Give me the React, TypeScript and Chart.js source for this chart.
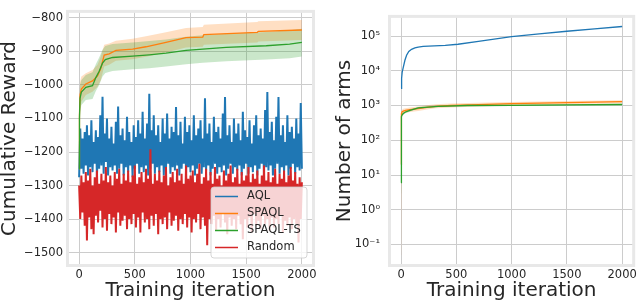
import React, { useEffect, useRef } from "react";
import { Chart, registerables } from "chart.js";
Chart.register(...registerables);

const FONT = "'DejaVu Sans', sans-serif";
const TXT = "#262626";
const GRID = "#cccccc";
const BLUE = "#1f77b4";
const ORANGE = "#ff7f0e";
const GREEN = "#2ca02c";
const RED = "#d62728";

// ---------- Left panel: cumulative reward ----------
const X_TICKS = [0, 500, 1000, 1500, 2000];
const REWARD_TICKS = [-1500, -1400, -1300, -1200, -1100, -1000, -900, -800];

// AQL and Random sampled every 10 iterations (0..2000)
const AQL_REWARD = [
  -1275, -1130, -1250, -1160, -1265, -1140, -1240, -1120, -1270, -1150,
  -1245, -1105, -1260, -1170, -1235, -1135, -1275, -1155, -1250, -1090,
  -1240, -1035, -1265, -1145, -1230, -1100, -1270, -1160, -1245, -1125,
  -1255, -1175, -1240, -1110, -1265, -1064, -1250, -1150, -1235, -1130,
  -1270, -1165, -1245, -1095, -1260, -1140, -1240, -1170, -1275, -1120,
  -1250, -1155, -1235, -1105, -1265, -1145, -1245, -1080, -1260, -1160,
  -1240, -1115, -1270, -1026, -1250, -1135, -1235, -1090, -1265, -1150,
  -1245, -1120, -1260, -1170, -1240, -1100, -1270, -1145, -1250, -1085,
  -1235, -1160, -1265, -1125, -1245, -1140, -1255, -1066, -1240, -1150,
  -1270, -1110, -1250, -1175, -1235, -1095, -1265, -1140, -1245, -1120,
  -1260, -1165, -1240, -1090, -1270, -1150, -1250, -1130, -1235, -1105,
  -1265, -1160, -1245, -1040, -1255, -1145, -1240, -1115, -1270, -1170,
  -1250, -1095, -1235, -1140, -1265, -1125, -1245, -1160, -1260, -1085,
  -1240, -1036, -1270, -1150, -1250, -1120, -1235, -1170, -1265, -1100,
  -1245, -1145, -1255, -1115, -1240, -1165, -1270, -1080, -1250, -1135,
  -1235, -1155, -1265, -1105, -1245, -1175, -1260, -1120, -1240, -1090,
  -1270, -1150, -1250, -1130, -1235, -1160, -1265, -1075, -1245, -1021,
  -1255, -1140, -1240, -1110, -1270, -1165, -1250, -1095, -1235, -1036,
  -1265, -1150, -1245, -1120, -1260, -1170, -1240, -1090, -1270, -1140,
  -1250, -1125, -1235, -1160, -1265, -1100, -1245, -1145, -1255, -1054,
  -1250,
];

const RANDOM_REWARD = [
  -1300, -1400, -1270, -1380, -1290, -1420, -1260, -1464, -1285, -1395,
  -1250, -1430, -1300, -1445, -1275, -1390, -1255, -1410, -1295, -1375,
  -1265, -1425, -1285, -1400, -1245, -1435, -1290, -1385, -1270, -1415,
  -1300, -1395, -1260, -1440, -1280, -1380, -1250, -1420, -1295, -1405,
  -1265, -1390, -1285, -1430, -1255, -1400, -1290, -1415, -1270, -1385,
  -1240, -1425, -1295, -1395, -1275, -1440, -1260, -1380, -1290, -1410,
  -1250, -1400, -1280, -1430, -1192, -1390, -1295, -1420, -1265, -1385,
  -1285, -1445, -1255, -1400, -1290, -1415, -1270, -1395, -1245, -1430,
  -1300, -1380, -1275, -1420, -1260, -1405, -1290, -1390, -1250, -1435,
  -1285, -1400, -1265, -1415, -1295, -1385, -1240, -1425, -1280, -1395,
  -1270, -1440, -1255, -1400, -1290, -1410, -1265, -1385, -1235, -1430,
  -1295, -1395, -1275, -1420, -1250, -1478, -1285, -1400, -1260, -1415,
  -1295, -1390, -1245, -1435, -1280, -1400, -1270, -1425, -1300, -1385,
  -1255, -1410, -1285, -1445, -1265, -1395, -1240, -1420, -1290, -1400,
  -1275, -1430, -1250, -1390, -1295, -1415, -1260, -1460, -1285, -1400,
  -1270, -1425, -1245, -1395, -1290, -1440, -1265, -1385, -1280, -1420,
  -1255, -1405, -1295, -1430, -1270, -1390, -1240, -1415, -1285, -1400,
  -1260, -1435, -1290, -1395, -1275, -1425, -1250, -1400, -1295, -1415,
  -1265, -1390, -1280, -1440, -1255, -1405, -1290, -1420, -1270, -1395,
  -1245, -1430, -1285, -1400, -1260, -1415, -1295, -1470, -1275, -1400,
  -1290,
];

const SPAQL_ITERS = [0, 3, 8, 20, 60, 120, 165, 195, 225, 270, 330, 480, 600, 780, 960, 1110, 1120, 1600, 1610, 2000];
const SPAQL_REWARD = [-1250, -1090, -1030, -1012, -997, -988, -973, -950, -911, -907, -897, -893, -886, -873, -859, -857, -850, -843, -840, -836];
const SPAQL_UPPER = [-1200, -1050, -990, -975, -965, -955, -940, -915, -880, -876, -868, -862, -855, -843, -830, -827, -820, -812, -810, -806];
const SPAQL_LOWER = [-1300, -1130, -1070, -1050, -1030, -1020, -1005, -985, -945, -940, -928, -923, -916, -903, -888, -886, -880, -873, -870, -866];

const TS_ITERS = [0, 3, 8, 20, 60, 120, 150, 180, 210, 235, 300, 480, 630, 780, 960, 1110, 1320, 1680, 1890, 2000];
const TS_REWARD = [-1250, -1100, -1040, -1021, -1007, -1002, -978, -959, -935, -924, -918, -914, -910, -905, -897, -893, -888, -883, -878, -873];
const TS_UPPER = [-1200, -1060, -1000, -985, -970, -962, -938, -918, -895, -884, -878, -873, -869, -864, -856, -852, -847, -842, -837, -832];
const TS_LOWER = [-1300, -1140, -1080, -1060, -1045, -1042, -1018, -1000, -975, -964, -958, -953, -950, -945, -938, -934, -929, -924, -920, -915];

// ---------- Right panel: number of arms ----------
const ARMS_TICKS = [0.1, 1, 10, 100, 1000, 10000, 100000];
const ARMS_TICK_LABELS = ["10\u207B\u00B9", "10\u2070", "10\u00B9", "10\u00B2", "10\u00B3", "10\u2074", "10\u2075"];

const AQL_ARMS_ITERS = [0, 5, 10, 20, 35, 50, 70, 95, 125, 155, 200, 300, 400, 515, 700, 1000, 1250, 1500, 1750, 2000];
const AQL_ARMS = [3100, 6000, 9000, 12500, 20000, 28000, 36000, 41500, 45500, 48000, 50000, 52000, 53500, 58000, 70000, 96000, 115000, 137000, 160000, 188000];

const SPAQL_ARMS_ITERS = [0, 1, 3, 6, 10, 20, 40, 80, 155, 250, 315, 450, 700, 1000, 1500, 2000];
const SPAQL_ARMS = [20, 150, 450, 580, 660, 690, 720, 760, 815, 900, 950, 1000, 1060, 1130, 1210, 1290];
const SPAQL_ARMS_UPPER = [40, 250, 600, 700, 760, 800, 830, 880, 940, 1040, 1090, 1140, 1200, 1270, 1350, 1420];
const SPAQL_ARMS_LOWER = [0.05, 80, 330, 470, 560, 590, 620, 650, 700, 780, 830, 880, 930, 1000, 1080, 1170];

const TS_ARMS_ITERS = [0, 1, 3, 6, 10, 20, 40, 80, 155, 335, 600, 1000, 1500, 2000];
const TS_ARMS = [6, 100, 350, 480, 540, 590, 650, 720, 850, 950, 1000, 1010, 1040, 1070];
const TS_ARMS_UPPER = [12, 150, 420, 540, 600, 640, 700, 770, 900, 1000, 1050, 1060, 1090, 1120];
const TS_ARMS_LOWER = [3, 60, 280, 420, 480, 540, 600, 670, 800, 900, 950, 960, 990, 1020];

const LEGEND_LABELS = ["AQL", "SPAQL", "SPAQL-TS", "Random"];
const LEGEND_COLORS = [BLUE, ORANGE, GREEN, RED];

const pts = (xs: number[], ys: number[]) => ys.map((y, i) => ({ x: xs[i], y }));
const NOISE_ITERS = AQL_REWARD.map((_, i) => i * 10);

function lineDs(label: string, data: any[], color: string, order: number, width = 1.2) {
  return { label, data, borderColor: color, borderWidth: width, pointRadius: 0, fill: false, order, tension: 0 };
}
function bandDs(upper: any[], lower: any[], fillColor: string, order: number) {
  return [
    { label: "_u", data: upper, borderWidth: 0, borderColor: "transparent", pointRadius: 0, fill: "+1", backgroundColor: fillColor, order },
    { label: "_l", data: lower, borderWidth: 0, borderColor: "transparent", pointRadius: 0, fill: false, order },
  ];
}

const framePlugin = {
  id: "frame",
  afterDatasetsDraw(chart: any) {
    const { ctx, chartArea: a } = chart;
    ctx.save();
    ctx.strokeStyle = "#e8e8e8";
    ctx.lineWidth = 3;
    ctx.strokeRect(a.left - 0.5, a.top - 0.5, a.right - a.left + 1, a.bottom - a.top + 1);
    ctx.restore();
  },
};

const legendPlugin = {
  id: "boxLegend",
  afterDraw(chart: any) {
    const { ctx, chartArea: a } = chart;
    const w = 96, h = 71;
    const x = a.right - 6 - w;
    const y = a.bottom - 7 - h;
    ctx.save();
    ctx.beginPath();
    const r = 3;
    ctx.moveTo(x + r, y);
    ctx.lineTo(x + w - r, y);
    ctx.quadraticCurveTo(x + w, y, x + w, y + r);
    ctx.lineTo(x + w, y + h - r);
    ctx.quadraticCurveTo(x + w, y + h, x + w - r, y + h);
    ctx.lineTo(x + r, y + h);
    ctx.quadraticCurveTo(x, y + h, x, y + h - r);
    ctx.lineTo(x, y + r);
    ctx.quadraticCurveTo(x, y, x + r, y);
    ctx.closePath();
    ctx.fillStyle = "rgba(255,255,255,0.8)";
    ctx.fill();
    ctx.strokeStyle = "rgba(204,204,204,0.8)";
    ctx.lineWidth = 1;
    ctx.stroke();
    ctx.font = `11.5px ${FONT}`;
    ctx.textBaseline = "middle";
    ctx.textAlign = "left";
    LEGEND_LABELS.forEach((lab, i) => {
      const cy = y + 9.5 + i * 17;
      ctx.strokeStyle = LEGEND_COLORS[i];
      ctx.lineWidth = 1.5;
      ctx.beginPath();
      ctx.moveTo(x + 4, cy);
      ctx.lineTo(x + 27, cy);
      ctx.stroke();
      ctx.fillStyle = TXT;
      ctx.fillText(lab, x + 36, cy);
    });
    ctx.restore();
  },
};

function xScale() {
  return {
    type: "linear",
    min: -100,
    max: 2100,
    afterBuildTicks: (s: any) => { s.ticks = X_TICKS.map((v) => ({ value: v })); },
    afterFit: (s: any) => { s.height = 38; },
    grid: { color: GRID, lineWidth: 1, drawTicks: false },
    border: { display: false },
    ticks: { font: { family: FONT, size: 11.5 }, color: TXT, padding: 3, maxRotation: 0, callback: (v: any) => String(v) },
    title: { display: true, text: "Training iteration", font: { family: FONT, size: 20, lineHeight: 1.1 }, color: TXT, padding: { top: 0, bottom: 1 } },
  };
}

function LeftChart() {
  const ref = useRef<HTMLCanvasElement>(null);
  useEffect(() => {
    const datasets: any[] = [
      lineDs("Random", pts(NOISE_ITERS, RANDOM_REWARD), RED, 0, 2),
      lineDs("SPAQL-TS", pts(TS_ITERS, TS_REWARD), GREEN, 1, 1.3),
      lineDs("SPAQL", pts(SPAQL_ITERS, SPAQL_REWARD), ORANGE, 2, 1.3),
      lineDs("AQL", pts(NOISE_ITERS, AQL_REWARD), BLUE, 3, 2),
      ...bandDs(pts(TS_ITERS, TS_UPPER), pts(TS_ITERS, TS_LOWER), "rgba(44,160,44,0.25)", 4),
      ...bandDs(pts(SPAQL_ITERS, SPAQL_UPPER), pts(SPAQL_ITERS, SPAQL_LOWER), "rgba(255,127,14,0.25)", 5),
    ];
    const chart = new Chart(ref.current!, {
      type: "line",
      data: { datasets },
      options: {
        animation: false,
        responsive: false,
        devicePixelRatio: 1,
        layout: { padding: { left: 0, right: 7, top: 3, bottom: 0 } },
        plugins: { legend: { display: false }, tooltip: { enabled: false } },
        scales: {
          x: xScale() as any,
          y: {
            type: "linear",
            min: -1537,
            max: -782,
            afterBuildTicks: (s: any) => { s.ticks = REWARD_TICKS.map((v) => ({ value: v })); },
            afterFit: (s: any) => { s.width = 68; },
            grid: { color: GRID, lineWidth: 1, drawTicks: false },
            border: { display: false },
            ticks: { font: { family: FONT, size: 11.5 }, color: TXT, padding: 5, callback: (v: any) => String(v).replace("-", "\u2212") },
            title: { display: true, text: "Cumulative Reward", font: { family: FONT, size: 20, lineHeight: 1.1 }, color: TXT, padding: { top: -1, bottom: 0 } },
          },
        },
      },
      plugins: [framePlugin, legendPlugin],
    } as any);
    return () => chart.destroy();
  }, []);
  return <canvas ref={ref} width={320} height={303} style={{ display: "block", width: 320, height: 303 }} />;
}

function RightChart() {
  const ref = useRef<HTMLCanvasElement>(null);
  useEffect(() => {
    const datasets: any[] = [
      lineDs("SPAQL-TS", pts(TS_ARMS_ITERS, TS_ARMS), GREEN, 0, 1.3),
      lineDs("SPAQL", pts(SPAQL_ARMS_ITERS, SPAQL_ARMS), ORANGE, 1, 1.3),
      lineDs("AQL", pts(AQL_ARMS_ITERS, AQL_ARMS), BLUE, 2, 1.3),
      ...bandDs(pts(TS_ARMS_ITERS, TS_ARMS_UPPER), pts(TS_ARMS_ITERS, TS_ARMS_LOWER), "rgba(44,160,44,0.25)", 3),
      ...bandDs(pts(SPAQL_ARMS_ITERS, SPAQL_ARMS_UPPER), pts(SPAQL_ARMS_ITERS, SPAQL_ARMS_LOWER), "rgba(255,127,14,0.25)", 4),
    ];
    const chart = new Chart(ref.current!, {
      type: "line",
      data: { datasets },
      options: {
        animation: false,
        responsive: false,
        devicePixelRatio: 1,
        layout: { padding: { left: 0, right: 5, top: 3, bottom: 0 } },
        plugins: { legend: { display: false }, tooltip: { enabled: false } },
        scales: {
          x: xScale() as any,
          y: {
            type: "logarithmic",
            min: Math.pow(10, -1.59),
            max: Math.pow(10, 5.55),
            afterBuildTicks: (s: any) => { s.ticks = ARMS_TICKS.map((v) => ({ value: v })); },
            afterFit: (s: any) => { s.width = 70; },
            grid: { color: GRID, lineWidth: 1, drawTicks: false },
            border: { display: false },
            ticks: {
              font: { family: FONT, size: 11.5 },
              color: TXT,
              padding: 10,
              callback: (v: any) => {
                const i = ARMS_TICKS.findIndex((t) => Math.abs(t - v) / t < 1e-6);
                return i >= 0 ? ARMS_TICK_LABELS[i] : "";
              },
            },
            title: { display: true, text: "Number of arms", font: { family: FONT, size: 20, lineHeight: 1.1 }, color: TXT, padding: { top: 14, bottom: 0 } },
          },
        },
      },
      plugins: [framePlugin],
    } as any);
    return () => chart.destroy();
  }, []);
  return <canvas ref={ref} width={320} height={303} style={{ display: "block", width: 320, height: 303 }} />;
}

export default function App() {
  return (
    <div style={{ position: "fixed", left: 0, top: 0, width: 640, height: 303, display: "flex", background: "#fff" }}>
      <LeftChart />
      <RightChart />
    </div>
  );
}
